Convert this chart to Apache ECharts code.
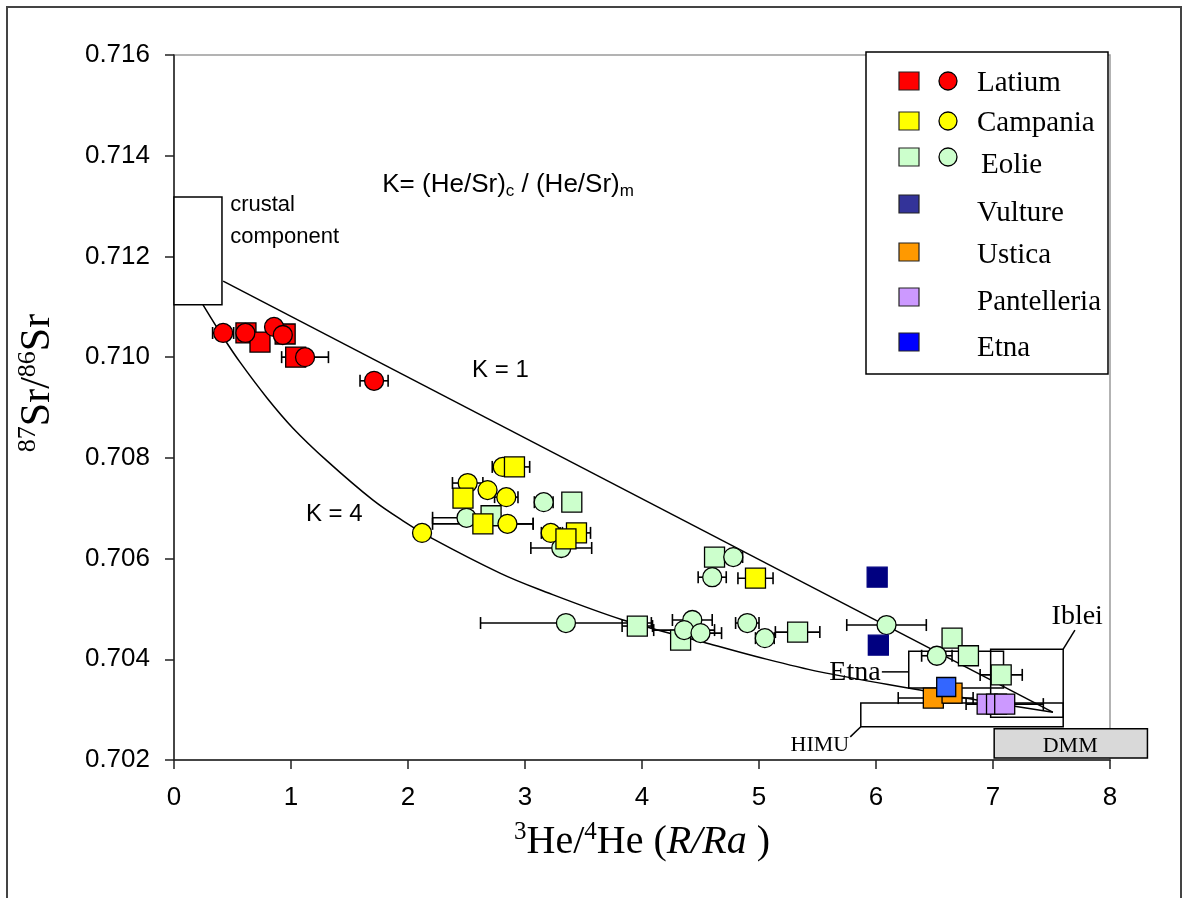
<!DOCTYPE html>
<html><head><meta charset="utf-8">
<script src="https://cdn.jsdelivr.net/npm/echarts@6/dist/echarts.min.js"></script>
<style>html,body{margin:0;padding:0;background:#fff}#c{width:1187px;height:898px}</style>
</head><body><div id="c"></div>
<script>
// ---------- data ----------
const xMin = 0, xMax = 8, xInterval = 1;
const yMin = 0.702, yMax = 0.716, yInterval = 0.002;

const latiumSquares = [[0.615,0.71048],[0.735,0.7103],[0.95,0.71046],[1.04,0.7100]];
const latiumCircles = [[0.42,0.71048],[0.61,0.71048],[0.855,0.7106],[0.93,0.71044],[1.12,0.7100],[1.71,0.70953]];
const campaniaSquares = [[2.91,0.70782],[2.47,0.7072],[2.64,0.70669],[3.44,0.70651],[3.35,0.70639],[4.97,0.70561]];
const campaniaCircles = [[2.81,0.70782],[2.51,0.7075],[2.68,0.70736],[2.84,0.70722],[2.85,0.70669],[2.12,0.70651],[3.22,0.70651]];
const eolieSquares = [[3.40,0.70712],[2.71,0.70685],[4.62,0.70603],[3.96,0.70466],[4.33,0.70438],[5.33,0.70454],[6.65,0.70442],[6.79,0.70407],[7.07,0.70369]];
const eolieCircles = [[3.16,0.70712],[2.50,0.70681],[3.31,0.70621],[4.78,0.70603],[4.60,0.70563],[3.35,0.70472],[4.43,0.70478],[4.36,0.70458],[4.50,0.70452],[4.90,0.70472],[5.05,0.70442],[6.09,0.70468],[6.52,0.70407]];
const vulture = [[6.01,0.70563],[6.02,0.70428]];
const ustica = [[6.49,0.70323],[6.65,0.70333]];
const etna = [[6.60,0.70345]];
const pantelleria = [[6.95,0.70311],[7.03,0.70311],[7.10,0.70311]];

// [x, y, +/- error in R/Ra]
const errorBars = [
  [0.42,0.71048,0.09],[1.12,0.7100,0.2],[1.71,0.70953,0.12],
  [2.81,0.70782,0.09],[2.91,0.70782,0.13],[2.51,0.7075,0.13],[2.84,0.70722,0.1],[2.64,0.70669,0.43],
  [2.85,0.70669,0.22],[3.44,0.70651,0.12],[4.97,0.70561,0.15],[2.12,0.70651,0.06],[3.22,0.70651,0.08],
  [2.50,0.70681,0.29],[3.31,0.70621,0.26],[4.60,0.70563,0.12],[3.35,0.70472,0.73],[3.96,0.70466,0.13],
  [4.43,0.70478,0.17],[4.36,0.70458,0.26],[4.50,0.70452,0.18],[4.90,0.70472,0.1],[5.05,0.70442,0.08],
  [5.33,0.70454,0.19],[6.09,0.70468,0.34],[6.52,0.70407,0.13],[7.07,0.70369,0.18],[4.78,0.70603,0.08],
  [3.16,0.70712,0.08],[6.51,0.70323,0.32],[7.10,0.70311,0.33]
];

// mixing curves
const curveK1 = [[0.42,0.71151],[7.51,0.70295]];
const curveK4 = [[0.248,0.71104],[0.419,0.71040],[0.564,0.70990],[0.795,0.70919],[1.017,0.70859],
  [1.308,0.70794],[1.701,0.70716],[1.957,0.70675],[2.214,0.70639],[2.786,0.70571],[3.128,0.70538],[3.838,0.70478],
  [4.556,0.70432],[4.983,0.70405],[5.521,0.70375],[6.376,0.70339],[6.863,0.70319],[7.513,0.70295]];

// end-member fields [x0, y0, x1, y1]
const boxNames = ['crustal','Etna','Iblei','HIMU','DMM'];
const boxes = [[0,0.71104,0.41,0.71318],[6.28,0.70343,7.09,0.70416],[6.98,0.70285,7.60,0.70420],[5.87,0.70266,7.60,0.70313],[7.01,0.70204,8.32,0.70262]];

// leader lines [x1,y1,x2,y2]
const leaders = [[7.60,0.70420,7.70,0.70458],[6.05,0.70375,6.28,0.70375],[5.78,0.70246,5.87,0.70266]];

// annotation texts
const annoTexts = ['crustal','component','{t|K= (He/Sr)}{s|c}{t| / (He/Sr)}{s|m}','K = 1','K = 4','Iblei','Etna','HIMU','DMM'];
const annoPos = [[0.48,0.71302],[0.48,0.71239],[1.78,0.71342],[2.79,0.70974],[1.37,0.70687],[7.72,0.70484],[5.82,0.70373],[5.52,0.70230],[7.66,0.70228]];

const legendLabels = ['Latium','Campania','Eolie','Vulture','Ustica','Pantelleria','Etna'];
const legendColors = ['#FF0000','#FFFF00','#CCFFCC','#333399','#FF9900','#CC99FF','#0000FF'];
const legendHasCircle = [true,true,true,false,false,false,false];

// ---------- chart ----------
const SERIF = "'Times New Roman','Liberation Serif',serif";
const SANS = "Arial,'Liberation Sans',sans-serif";
const chart = echarts.init(document.getElementById('c'));

function scatter(name, data, symbol, color, size, border) {
  return {type:'scatter', name, data, symbol, symbolSize: size, z: 5,
    itemStyle:{color, borderColor: border || '#000', borderWidth: 1.3, opacity: 1},
    emphasis:{disabled:true}, animation:false};
}

const legendRowY = [81,121,157,204,252,297,342];
const legendTextDy = [2,2,8,9,3,5,6];
const legendGraphic = [{type:'rect', shape:{x:866,y:52,width:242,height:322}, style:{fill:'#fff',stroke:'#000',lineWidth:1.5}, z:100}];
legendLabels.forEach((lab,i)=>{
  const y = legendRowY[i];
  legendGraphic.push({type:'rect', shape:{x:899,y:y-9,width:20,height:18}, style:{fill:legendColors[i],stroke:'#222',lineWidth:1.2}, z:101});
  if (legendHasCircle[i]) legendGraphic.push({type:'circle', shape:{cx:948,cy:y,r:9}, style:{fill:legendColors[i],stroke:'#000',lineWidth:1.3}, z:101});
  legendGraphic.push({type:'text', x:977 + (i===2?4:0), y:y+legendTextDy[i], style:{text:lab, font:'29px '+SERIF, fill:'#000', textVerticalAlign:'middle', verticalAlign:'middle'}, z:101});
});

const option = {
  backgroundColor:'#fff',
  animation:false,
  grid:{left:174, top:55, right:77, bottom:138, show:true, borderColor:'#9a9a9a', borderWidth:1.5, backgroundColor:'transparent'},
  xAxis:{type:'value', min:xMin, max:xMax, interval:xInterval,
    axisLine:{show:true, onZero:false, lineStyle:{color:'#222', width:1.5}},
    axisTick:{show:true, inside:false, length:9, lineStyle:{color:'#222', width:1.5}},
    splitLine:{show:false},
    axisLabel:{margin:25, color:'#000', fontSize:26, fontFamily:SANS},
    name:'{sup|3}{n|He/}{sup|4}{n|He (}{i|R/Ra}{n| )}', nameLocation:'middle', nameGap:60,
    nameTextStyle:{color:'#000', fontFamily:SERIF, fontSize:40,
      rich:{ n:{fontFamily:SERIF, fontSize:40, lineHeight:44, color:'#000'},
             i:{fontFamily:SERIF, fontSize:40, lineHeight:44, fontStyle:'italic', color:'#000'},
             sup:{fontFamily:SERIF, fontSize:25, lineHeight:25, verticalAlign:'top', color:'#000'} }}
  },
  yAxis:{type:'value', min:yMin, max:yMax, interval:yInterval,
    axisLine:{show:true, onZero:false, lineStyle:{color:'#222', width:1.5}},
    axisTick:{show:true, inside:false, length:9, lineStyle:{color:'#222', width:1.5}},
    splitLine:{show:false},
    axisLabel:{margin:24, color:'#000', fontSize:26, fontFamily:SANS, formatter:v=>v.toFixed(3)}
  },
  graphic:[
    {type:'rect', shape:{x:7,y:7,width:1174,height:900}, style:{fill:'none',stroke:'#444',lineWidth:2}, z:-1, silent:true},
    {type:'text', x:38, y:383, rotation:Math.PI/2,
      style:{text:'{sup|87}{n|Sr/}{sup|86}{n|Sr}', align:'center', verticalAlign:'middle',
        rich:{ n:{fontFamily:SERIF, fontSize:42, lineHeight:46, fill:'#000'},
               sup:{fontFamily:SERIF, fontSize:26, lineHeight:26, verticalAlign:'top', fill:'#000'} }}},
    ...legendGraphic
  ],
  series:[
    {type:'custom', name:'fields', data:boxes, clip:false, z:2, silent:true,
      encode:{x:[0,2], y:[1,3]},
      renderItem:(params, api)=>{
        const p0 = api.coord([api.value(0), api.value(3)]);
        const p1 = api.coord([api.value(2), api.value(1)]);
        const nm = boxNames[params.dataIndex];
        return {type:'rect', shape:{x:p0[0], y:p0[1], width:p1[0]-p0[0], height:p1[1]-p0[1]},
          style:{fill: nm==='DMM' ? '#D9D9D9' : (nm==='crustal' ? '#fff' : 'none'), stroke:'#000', lineWidth:1.5}};
      }},
    {type:'line', name:'K = 1', data:curveK1, showSymbol:false, symbol:'none', z:3, silent:true,
      lineStyle:{color:'#000', width:1.5}},
    {type:'line', name:'K = 4', data:curveK4, showSymbol:false, symbol:'none', smooth:0.35, z:3, silent:true,
      lineStyle:{color:'#000', width:1.5}},
    {type:'custom', name:'leaders', data:leaders, clip:false, z:3, silent:true,
      encode:{x:[0,2], y:[1,3]},
      renderItem:(params, api)=>{
        const a = api.coord([api.value(0), api.value(1)]);
        const b = api.coord([api.value(2), api.value(3)]);
        return {type:'line', shape:{x1:a[0],y1:a[1],x2:b[0],y2:b[1]}, style:{stroke:'#000', lineWidth:1.5}};
      }},
    {type:'custom', name:'errors', data:errorBars, clip:false, z:4, silent:true,
      encode:{x:0, y:1},
      renderItem:(params, api)=>{
        const x = api.value(0), y = api.value(1), e = api.value(2);
        const a = api.coord([x-e, y]), b = api.coord([x+e, y]);
        const h = 6, st = {stroke:'#000', lineWidth:1.6};
        return {type:'group', children:[
          {type:'line', shape:{x1:a[0],y1:a[1],x2:b[0],y2:b[1]}, style:st},
          {type:'line', shape:{x1:a[0],y1:a[1]-h,x2:a[0],y2:a[1]+h}, style:st},
          {type:'line', shape:{x1:b[0],y1:b[1]-h,x2:b[0],y2:b[1]+h}, style:st}
        ]};
      }},
    scatter('Latium', latiumSquares, 'rect', '#FF0000', 20),
    scatter('Latium', latiumCircles, 'circle', '#FF0000', 19),
    scatter('Eolie', eolieSquares, 'rect', '#CCFFCC', 20),
    scatter('Eolie', eolieCircles, 'circle', '#CCFFCC', 19),
    scatter('Campania', campaniaCircles, 'circle', '#FFFF00', 19),
    scatter('Campania', campaniaSquares, 'rect', '#FFFF00', 20),
    scatter('Vulture', vulture, 'rect', '#000080', 20, '#000080'),
    scatter('Ustica', ustica, 'rect', '#FF9900', 20),
    scatter('Pantelleria', pantelleria, 'rect', '#CC99FF', 20),
    scatter('Etna', etna, 'rect', '#3366FF', 19),
    {type:'custom', name:'annotations', data:annoPos, clip:false, z:6, silent:true,
      encode:{x:0, y:1},
      renderItem:(params, api)=>{
        const p = api.coord([api.value(0), api.value(1)]);
        const i = params.dataIndex;
        const t = annoTexts[i];
        const serif = i >= 5;
        let size = 22, align = 'center';
        if (i <= 2) align = 'left';
        if (i === 3 || i === 4) size = 24;
        if (i === 5 || i === 6) size = 28;
        if (i === 7 || i === 8) size = 22;
        const fam = serif ? SERIF : SANS;
        return {type:'text', x:p[0], y:p[1], style:{text:t, fill:'#000', font: size+'px '+fam,
          align, verticalAlign:'middle',
          rich:{ t:{fontFamily:SANS, fontSize:26, lineHeight:30, fill:'#000'},
                 s:{fontFamily:SANS, fontSize:17, lineHeight:17, verticalAlign:'bottom', fill:'#000'} }}};
      }}
  ]
};
chart.setOption(option);
</script></body></html>
